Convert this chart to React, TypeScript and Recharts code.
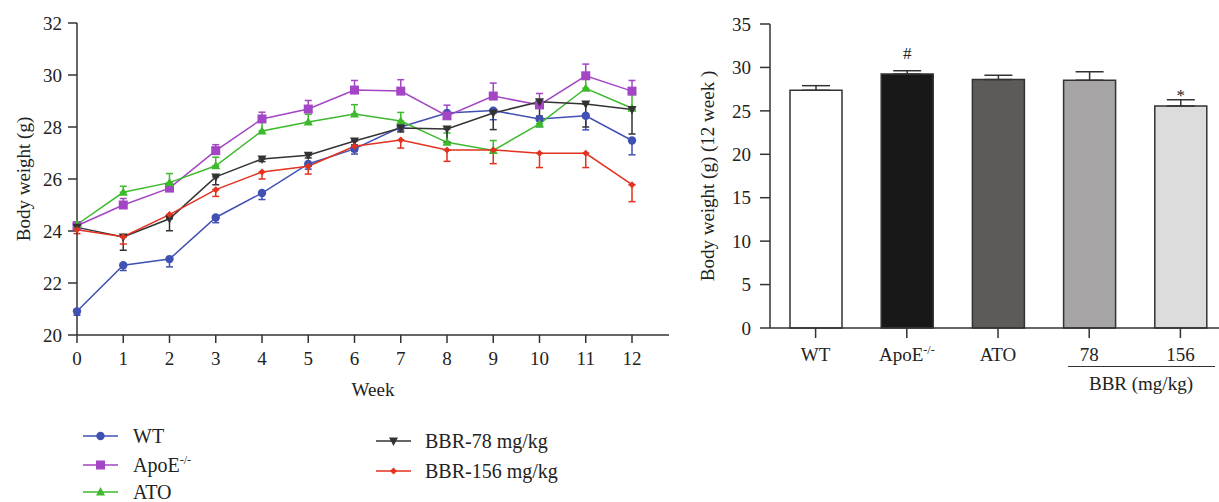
import React from "react";
import {
  LineChart,
  Line,
  XAxis,
  YAxis,
  ErrorBar,
  BarChart,
  Bar,
  Cell,
  LabelList,
} from "recharts";

const FONT = '"Liberation Serif", "Times New Roman", serif';
const INK = "#222";
const AXIS = "#333";

// body weight over time (mean, sem)
const weeks = [0, 1, 2, 3, 4, 5, 6, 7, 8, 9, 10, 11, 12];
const wtMean = [20.91, 22.68, 22.92, 24.52, 25.46, 26.58, 27.16, 28.0, 28.54, 28.63, 28.31, 28.43, 27.48];
const wtSem = [0.15, 0.2, 0.3, 0.2, 0.25, 0.2, 0.2, 0.15, 0.2, 0.35, 0.3, 0.54, 0.55];
const apoeMean = [24.2, 25.0, 25.65, 27.09, 28.31, 28.69, 29.42, 29.38, 28.43, 29.19, 28.85, 29.97, 29.38];
const apoeSem = [0.1, 0.25, 0.1, 0.23, 0.26, 0.33, 0.37, 0.44, 0.41, 0.5, 0.44, 0.45, 0.41];
const atoMean = [24.25, 25.49, 25.86, 26.51, 27.85, 28.19, 28.5, 28.23, 27.41, 27.1, 28.12, 29.49, 28.72];
const atoSem = [0.1, 0.23, 0.35, 0.33, 0.37, 0.3, 0.36, 0.33, 0.36, 0.38, 0.2, 0.4, 0.53];
const bbr78Mean = [24.14, 23.77, 24.47, 26.08, 26.77, 26.91, 27.46, 27.96, 27.92, 28.54, 28.97, 28.88, 28.67];
const bbr78Sem = [0.1, 0.51, 0.46, 0.3, 0.1, 0.1, 0.15, 0.15, 0.5, 0.64, 0.55, 0.88, 0.94];
const bbr156Mean = [24.05, 23.78, 24.63, 25.59, 26.27, 26.49, 27.26, 27.5, 27.12, 27.12, 26.99, 26.99, 25.78];
const bbr156Sem = [0.15, 0.28, 0.1, 0.26, 0.27, 0.3, 0.2, 0.31, 0.44, 0.53, 0.55, 0.55, 0.65];
const weightTicks = [20, 22, 24, 26, 28, 30, 32];

// week 12 bar chart
const groups = ["WT", "ApoE-/-", "ATO", "78", "156"];
const week12Mean = [27.37, 29.24, 28.6, 28.52, 25.56];
const week12Sem = [0.53, 0.38, 0.5, 0.98, 0.72];
const sigMarks = ["", "#", "", "", "*"];
const barFills = ["#ffffff", "#181818", "#5e5a59", "#a6a4a5", "#dcdcdc"];
const barTicks = [0, 5, 10, 15, 20, 25, 30, 35];

type Shape = "circle" | "square" | "triangle" | "triangleDown" | "diamond";

const series = [
  { key: "wt", name: "WT", color: "#4151b3", shape: "circle" as Shape, mean: wtMean, sem: wtSem, up: false },
  { key: "apoe", name: "ApoE", color: "#a345c4", shape: "square" as Shape, mean: apoeMean, sem: apoeSem, up: true },
  { key: "ato", name: "ATO", color: "#3cba2c", shape: "triangle" as Shape, mean: atoMean, sem: atoSem, up: true },
  { key: "bbr78", name: "BBR-78 mg/kg", color: "#333333", shape: "triangleDown" as Shape, mean: bbr78Mean, sem: bbr78Sem, up: false },
  { key: "bbr156", name: "BBR-156 mg/kg", color: "#e3321f", shape: "diamond" as Shape, mean: bbr156Mean, sem: bbr156Sem, up: false },
];

const lineData = weeks.map((week, i) => {
  const row: Record<string, unknown> = { week };
  series.forEach((s) => {
    row[s.key] = s.mean[i];
    row[s.key + "Err"] = s.up ? [0, s.sem[i]] : [s.sem[i], 0];
  });
  return row;
});

const barData = groups.map((g, i) => ({
  group: g,
  mean: week12Mean[i],
  err: [0, week12Sem[i]],
  mark: sigMarks[i],
}));

function Marker({ shape, cx, cy, color }: { shape: Shape; cx: number; cy: number; color: string }) {
  switch (shape) {
    case "circle":
      return <circle cx={cx} cy={cy} r={4.2} fill={color} />;
    case "square":
      return <rect x={cx - 4.5} y={cy - 4.5} width={9} height={9} fill={color} />;
    case "triangle":
      return <polygon points={`${cx},${cy - 5} ${cx + 4.5},${cy + 3.5} ${cx - 4.5},${cy + 3.5}`} fill={color} />;
    case "triangleDown":
      return <polygon points={`${cx},${cy + 5} ${cx + 4.5},${cy - 3.5} ${cx - 4.5},${cy - 3.5}`} fill={color} />;
    default:
      return <polygon points={`${cx},${cy - 3.5} ${cx + 3.5},${cy} ${cx},${cy + 3.5} ${cx - 3.5},${cy}`} fill={color} />;
  }
}

const makeDot = (shape: Shape, color: string) => (props: any) => (
  <Marker key={`${shape}-${props.index}`} shape={shape} cx={props.cx} cy={props.cy} color={color} />
);

function GroupTick({ x, y, payload }: any) {
  const v = payload.value as string;
  return (
    <text x={x} y={y} dy="0.71em" textAnchor="middle" fontFamily={FONT} fontSize={19} fill={INK}>
      {v === "ApoE-/-" ? (
        <>
          ApoE<tspan dy={-7} fontSize={12}>-/-</tspan>
        </>
      ) : (
        v
      )}
    </text>
  );
}

function renderMark(props: any) {
  const { x, y, width, value } = props;
  if (!value) return null;
  return (
    <text
      x={Number(x) + Number(width) / 2}
      y={Number(y) - (value === "*" ? 5 : 15)}
      textAnchor="middle"
      fontFamily={FONT}
      fontSize={17}
      fill={INK}
    >
      {value}
    </text>
  );
}

function LegendItem({ s, left, top, gap }: { s: (typeof series)[number]; left: number; top: number; gap: number }) {
  return (
    <div style={{ position: "absolute", left, top: top - 12, height: 24, display: "flex", alignItems: "center" }}>
      <svg width={35} height={12}>
        <line x1={0} x2={35} y1={6} y2={6} stroke={s.color} strokeWidth={1.5} />
        <Marker shape={s.shape} cx={17.5} cy={6} color={s.color} />
      </svg>
      <span style={{ marginLeft: gap, fontSize: 20, lineHeight: "24px", color: INK, whiteSpace: "nowrap" }}>
        {s.name}
        {s.key === "apoe" && <sup style={{ fontSize: 12, lineHeight: 0 }}>-/-</sup>}
      </span>
    </div>
  );
}

const tickStyle = { fill: INK, fontSize: 19, fontFamily: FONT };

export default function App() {
  return (
    <div
      style={{
        position: "absolute",
        left: 0,
        top: 0,
        width: 1219,
        height: 502,
        overflow: "hidden",
        background: "#fff",
        fontFamily: FONT,
      }}
    >
      <div style={{ position: "absolute", left: 0, top: 0 }}>
        <LineChart width={690} height={415} data={lineData} margin={{ top: 23, right: 21, left: 0, bottom: 0 }}>
          <XAxis
            dataKey="week"
            type="number"
            domain={[0, 12.8]}
            ticks={weeks}
            interval={0}
            height={80}
            tick={tickStyle}
            tickSize={8}
            tickMargin={9}
            axisLine={{ stroke: AXIS, strokeWidth: 1.5 }}
            tickLine={{ stroke: AXIS, strokeWidth: 1.5 }}
            label={{ value: "Week", position: "insideTop", offset: 48, fill: INK, fontSize: 19, fontFamily: FONT }}
          />
          <YAxis
            type="number"
            domain={[20, 32]}
            ticks={weightTicks}
            interval={0}
            width={77}
            tick={tickStyle}
            tickSize={9}
            tickMargin={6}
            axisLine={{ stroke: AXIS, strokeWidth: 1.5 }}
            tickLine={{ stroke: AXIS, strokeWidth: 1.5 }}
            label={{
              value: "Body weight (g)",
              angle: -90,
              position: "insideLeft",
              offset: 23,
              fill: INK,
              fontSize: 19,
              fontFamily: FONT,
              style: { textAnchor: "middle" },
            }}
          />
          {series.map((s) => (
            <Line
              key={s.key}
              dataKey={s.key}
              type="linear"
              stroke={s.color}
              strokeWidth={1.5}
              dot={makeDot(s.shape, s.color)}
              activeDot={false}
              isAnimationActive={false}
            >
              <ErrorBar dataKey={s.key + "Err"} direction="y" width={3.5} stroke={s.color} strokeWidth={1.5} />
            </Line>
          ))}
        </LineChart>
      </div>

      <LegendItem s={series[0]} left={83} top={436} gap={15} />
      <LegendItem s={series[1]} left={83} top={465} gap={15} />
      <LegendItem s={series[2]} left={83} top={492} gap={15} />
      <LegendItem s={series[3]} left={376} top={441} gap={14} />
      <LegendItem s={series[4]} left={376} top={471} gap={14} />

      <div style={{ position: "absolute", left: 690, top: 0 }}>
        <BarChart width={536} height={415} data={barData} margin={{ top: 24, right: 0, left: 0, bottom: 0 }}>
          <XAxis
            dataKey="group"
            height={87}
            interval={0}
            tick={<GroupTick />}
            tickSize={10}
            tickMargin={10}
            axisLine={{ stroke: AXIS, strokeWidth: 1.5 }}
            tickLine={{ stroke: AXIS, strokeWidth: 1.5 }}
          />
          <YAxis
            type="number"
            domain={[0, 35]}
            ticks={barTicks}
            interval={0}
            width={80}
            tick={tickStyle}
            tickSize={10}
            tickMargin={9}
            axisLine={{ stroke: AXIS, strokeWidth: 1.5 }}
            tickLine={{ stroke: AXIS, strokeWidth: 1.5 }}
            label={{
              value: "Body weight (g) (12 week )",
              angle: -90,
              position: "insideLeft",
              offset: 17,
              fill: INK,
              fontSize: 19,
              fontFamily: FONT,
              style: { textAnchor: "middle" },
            }}
          />
          <Bar dataKey="mean" barSize={52} stroke={AXIS} strokeWidth={1.5} isAnimationActive={false}>
            {barData.map((d, i) => (
              <Cell key={d.group} fill={barFills[i]} />
            ))}
            <ErrorBar dataKey="err" direction="y" width={14} stroke={AXIS} strokeWidth={1.5} />
            <LabelList dataKey="mark" content={renderMark} />
          </Bar>
        </BarChart>
      </div>

      <div
        style={{
          position: "absolute",
          left: 1068,
          top: 366,
          width: 147,
          borderTop: `1.5px solid ${AXIS}`,
        }}
      />
      <div
        style={{
          position: "absolute",
          left: 1061,
          top: 372,
          width: 160,
          textAlign: "center",
          fontSize: 19,
          lineHeight: "24px",
          color: INK,
        }}
      >
        BBR (mg/kg)
      </div>
    </div>
  );
}
